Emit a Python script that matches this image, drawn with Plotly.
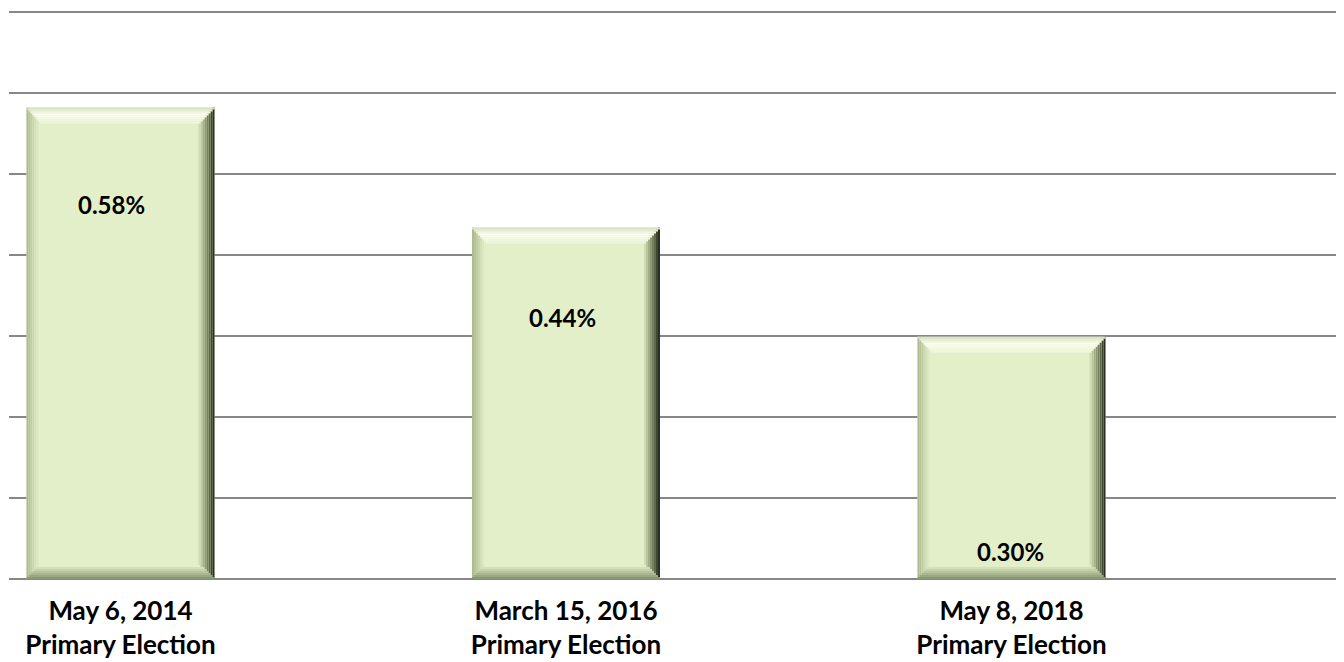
import plotly.graph_objects as go

# ---------------- data ----------------
categories = ["May 6, 2014<br>Primary Election",
              "March 15, 2016<br>Primary Election",
              "May 8, 2018<br>Primary Election"]
values = [0.582, 0.434, 0.299]          # percent
value_labels = ["0.58%", "0.44%", "0.30%"]

# ---------------- layout constants ----------------
# the page body has an 8px margin, so the figure is sized/margined to compensate
OFF = 8
W, H = 1344 - OFF, 662 - OFF
GRID_TOP_Y = 12          # screen y of the 0.7 gridline
PLOT_BOTTOM = 579        # screen y of the 0 baseline
PLOT_LEFT = 9            # screen x where gridlines start
CAT0_X = 120.5           # screen x of first category centre
CAT_STEP = 445.5         # px between category centres
Y_GRID_MAX = 0.7
px_y = (PLOT_BOTTOM - GRID_TOP_Y) / Y_GRID_MAX
EXTRA = 4                # px of headroom so the top gridline is drawn
Y_TOP = Y_GRID_MAX + EXTRA / px_y
M_L, M_R = PLOT_LEFT - OFF, 0
M_T = GRID_TOP_Y - OFF - EXTRA
M_B = H - (PLOT_BOTTOM - OFF)
plot_w = W - M_L - M_R
px_x = CAT_STEP
x_lo = -(CAT0_X - PLOT_LEFT) / px_x
X_RANGE = [x_lo, x_lo + plot_w / px_x]

BAR_PX = 188
bw = BAR_PX / px_x
x0 = -bw / 2


def hexrgb(h):
    h = h.lstrip("#")
    return tuple(int(h[i:i + 2], 16) for i in (0, 2, 4))


def grad(c1, c2, n):
    a, b = hexrgb(c1), hexrgb(c2)
    out = []
    for i in range(n):
        t = i / max(n - 1, 1)
        out.append("rgb(%d,%d,%d)" % tuple(round(a[k] + (b[k] - a[k]) * t) for k in range(3)))
    return out


fig = go.Figure()


def add_rect(xoff, xw, base_list, top_list, color):
    fig.add_trace(go.Bar(
        x=categories,
        y=[t - b for t, b in zip(top_list, base_list)],
        base=base_list,
        offset=xoff, width=xw,
        marker=dict(color=color, line=dict(width=0)),
        hoverinfo="skip", showlegend=False,
    ))


# center fill
add_rect(x0, bw, [0] * 3, values, "#e3efc9")

STEP = 2  # px per gradient step
left_cols = grad("#aebb8f", "#dce8c2", 6)
right_cols = ["#2b3023", "#3f4631"] + grad("#5f6b49", "#cfdbb2", 6)
top_cols = grad("#d9e2c2", "#fbfef0", 4) + grad("#f8fcea", "#eef6dc", 4)
bot_cols = grad("#8c9a74", "#d3dfb8", 6)

# left bevel
for i, c in enumerate(left_cols):
    d = i * STEP
    add_rect(x0 + d / px_x, STEP / px_x,
             [d / px_y] * 3, [v - d / px_y for v in values], c)
# right bevel
for i, c in enumerate(right_cols):
    d = i * STEP
    add_rect(x0 + bw - (d + STEP) / px_x, STEP / px_x,
             [d / px_y] * 3, [v - d / px_y for v in values], c)
# top bevel
for i, c in enumerate(top_cols):
    d = i * STEP
    add_rect(x0 + d / px_x, bw - 2 * d / px_x,
             [v - (d + STEP) / px_y for v in values], [v - d / px_y for v in values], c)
# bottom bevel
for i, c in enumerate(bot_cols):
    d = i * STEP
    add_rect(x0 + d / px_x, bw - 2 * d / px_x,
             [d / px_y] * 3, [(d + STEP) / px_y] * 3, c)

# data labels (pixel offsets from bar top centre, as placed in the original)
label_drop_px = [97, 90, 215]
label_dx_px = [-9, -4, -1]
for cat, v, lab, dy, dx in zip(categories, values, value_labels, label_drop_px, label_dx_px):
    fig.add_annotation(x=cat, y=v, yshift=-dy, xshift=dx, text="<b>%s</b>" % lab,
                       showarrow=False, font=dict(family="Lato", size=24, color="#000000"))

fig.update_layout(
    width=W, height=H,
    margin=dict(l=M_L, r=M_R, t=M_T, b=M_B, pad=0, autoexpand=False),
    barmode="overlay",
    plot_bgcolor="#ffffff", paper_bgcolor="#ffffff",
    showlegend=False,
    font=dict(family="Lato", color="#000000"),
)
fig.update_xaxes(
    range=X_RANGE, showgrid=False, showline=False, ticks="",
    automargin=False,
    tickvals=categories,
    ticktext=["<b>%s</b>" % c for c in categories],
    tickfont=dict(family="Lato", size=26, color="#000000"),
    ticklabelstandoff=14,
)
fig.update_yaxes(
    range=[0, Y_TOP], dtick=0.1, showticklabels=False, automargin=False,
    showgrid=True, gridcolor="#878787", gridwidth=2,
    zeroline=True, zerolinecolor="#878787", zerolinewidth=2,
)

fig.write_html("out.html")
